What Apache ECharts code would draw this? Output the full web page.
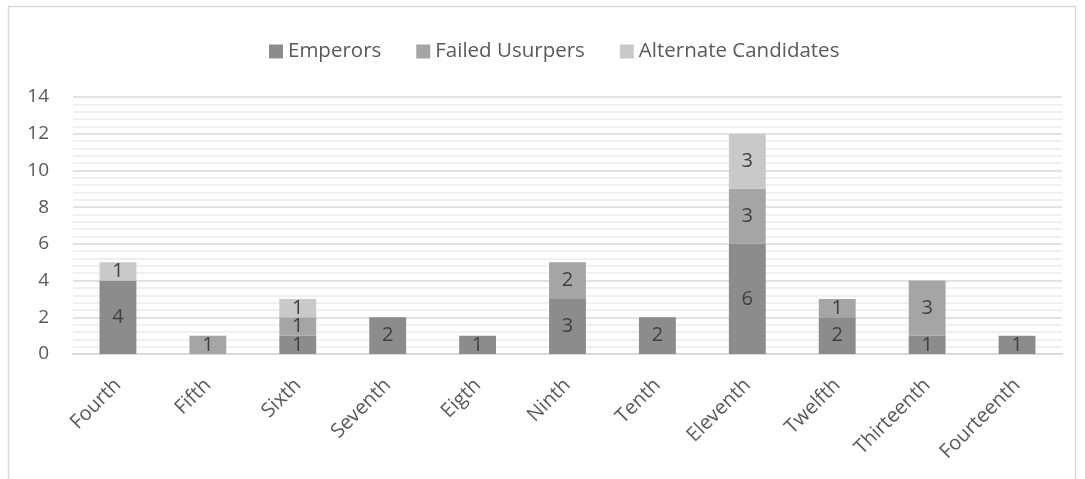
<!DOCTYPE html>
<html><head><meta charset="utf-8">
<script src="https://cdn.jsdelivr.net/npm/echarts@6/dist/echarts.min.js"></script>
<style>html,body{margin:0;padding:0;background:#fff}#c{width:1085px;height:479px}</style>
</head><body><div id="c"></div>
<script>
const categories = ['Fourth','Fifth','Sixth','Seventh','Eigth','Ninth','Tenth','Eleventh','Twelfth','Thirteenth','Fourteenth'];
const emperors = [4, 0, 1, 2, 1, 3, 2, 6, 2, 1, 1];
const failedUsurpers = [0, 1, 1, 0, 0, 2, 0, 3, 1, 3, 0];
const alternateCandidates = [1, 0, 1, 0, 0, 0, 0, 3, 0, 0, 0];
const yTicks = {min: 0, max: 14, interval: 2};

const FONT = 'Open Sans';
const chart = echarts.init(document.getElementById('c'));
function ser(name, data, color) {
  return {
    name, type: 'bar', stack: 'total', barWidth: '41%',
    data: data.map(v => v === 0 ? null : v),
    itemStyle: {color},
    label: {show: true, position: 'inside', color: '#404040', fontSize: 20, fontFamily: FONT},
    emphasis: {disabled: true}
  };
}
chart.setOption({
  animation: false,
  graphic: [{type: 'rect', shape: {x: 8.5, y: 6.5, width: 1067, height: 480}, style: {fill: 'none', stroke: '#d9d9d9', lineWidth: 1.5}}],
  legend: {
    top: 36, left: 264, itemWidth: 14, itemHeight: 14, itemGap: 35,
    icon: 'rect',
    textStyle: {color: '#595959', fontSize: 20.5, fontFamily: FONT}
  },
  grid: {left: 73, right: 23, top: 97, bottom: 125},
  xAxis: {
    type: 'category', data: categories,
    axisLine: {lineStyle: {color: '#d9d9d9', width: 2}},
    axisTick: {show: false},
    axisLabel: {rotate: 45, color: '#595959', fontSize: 20, fontFamily: FONT, margin: 28, interval: 0}
  },
  yAxis: {
    type: 'value', min: yTicks.min, max: yTicks.max, interval: yTicks.interval,
    axisLine: {show: false}, axisTick: {show: false},
    axisLabel: {color: '#595959', fontSize: 19, fontFamily: FONT, margin: 24},
    splitLine: {lineStyle: {color: '#d9d9d9', width: 1.5}},
    minorTick: {show: false, splitNumber: 5},
    minorSplitLine: {show: true, lineStyle: {color: '#ececec', width: 1.5}}
  },
  series: [
    ser('Emperors', emperors, '#8c8c8c'),
    ser('Failed Usurpers', failedUsurpers, '#a5a5a5'),
    ser('Alternate Candidates', alternateCandidates, '#c9c9c9')
  ]
});
</script></body></html>
